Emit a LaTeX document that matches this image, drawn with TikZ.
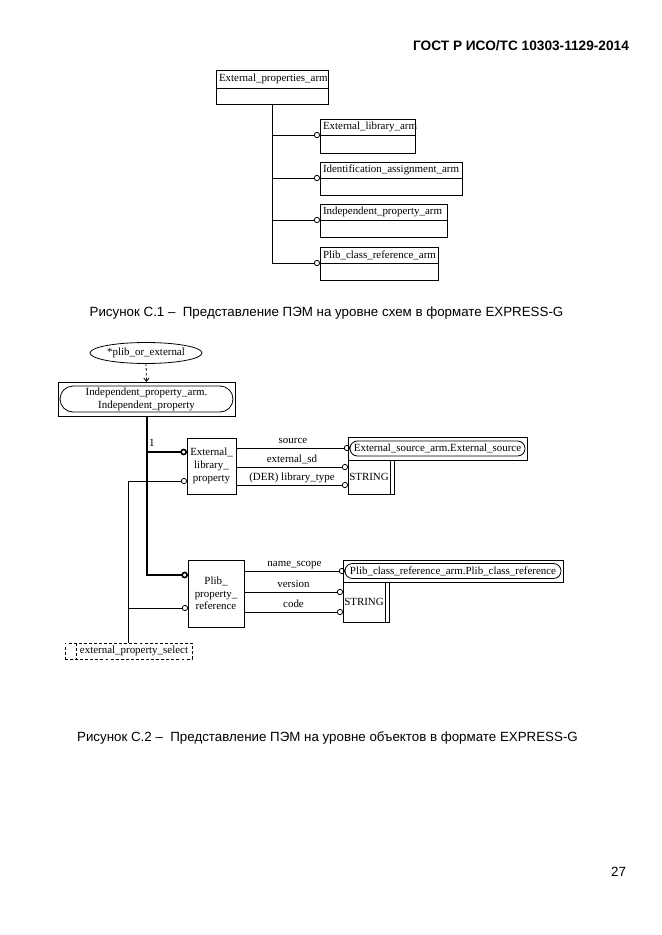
\documentclass[tikz,border=0pt]{standalone}
\usepackage{fontspec}
\setmainfont{Liberation Serif}
\newfontfamily\capfont{Liberation Sans}
\usetikzlibrary{arrows.meta,shapes.geometric,calc}
\begin{document}
\begin{tikzpicture}[x=0.75pt,y=-0.75pt,
  every node/.style={inner sep=0pt, outer sep=0pt},
  thinl/.style={line width=0.6pt},
  thickl/.style={line width=1.5pt},
  dtxt/.style={font=\fontsize{8.2}{9.75}\selectfont},
  hdr/.style={draw, thinl, anchor=north west, align=left, inner xsep=2.25pt, dtxt},
  bodyb/.style={draw, thinl, anchor=north west},
  cbox/.style={draw, thinl, align=center, dtxt},
  stad/.style={draw, thinl, rounded corners=5.6pt, dtxt},
  circ/.style={-{Circle[open,length=4.6pt,width=4.6pt]}},
  circb/.style={-{Circle[open,length=5pt,width=5pt,line width=1.2pt]}},
  lbl/.style={dtxt, text depth=0pt, above=3.2pt},
  capt/.style={font=\capfont\fontsize{10}{12}\selectfont},
]
\fill[white] (0,0) rectangle (661,935);
\useasboundingbox (0,0) rectangle (661,935);

% header and page number
\node[font=\capfont\bfseries\fontsize{10.25}{12}\selectfont] (hd) at (521,46) {ГОСТ Р ИСО/ТС 10303-1129-2014};
\node[font=\capfont\fontsize{10}{12}\selectfont, anchor=east] (pg) at (626,872) {27};

% ---------- Figure C.1 ----------
\node[hdr, text width=79.5pt, minimum height=13.5pt] (epah) at (216,70) {External\_properties\_arm};
\node[bodyb, minimum width=84pt, minimum height=12pt] (epab) at (epah.south west) {};

\node[hdr, text width=66.75pt, minimum height=12pt] (elah) at (320,119) {External\_library\_arm};
\node[bodyb, minimum width=71.25pt, minimum height=13.5pt] (elab) at (elah.south west) {};

\node[hdr, text width=102pt, minimum height=12pt] (iaah) at (320,162) {Identification\_assignment\_arm};
\node[bodyb, minimum width=106.5pt, minimum height=12.75pt] (iaab) at (iaah.south west) {};

\node[hdr, text width=90.75pt, minimum height=12pt] (ipah) at (320,204) {Independent\_property\_arm};
\node[bodyb, minimum width=95.25pt, minimum height=12.75pt] (ipab) at (ipah.south west) {};

\node[hdr, text width=84pt, minimum height=12pt] (pcrah) at (320,247) {Plib\_class\_reference\_arm};
\node[bodyb, minimum width=88.5pt, minimum height=12.75pt] (pcrab) at (pcrah.south west) {};

\draw[thinl] (epab.south) -- (epab.south |- pcrah.south west);
\draw[thinl,circ] (epab.south |- elah.south west) -- (elah.south west);
\draw[thinl,circ] (epab.south |- iaah.south west) -- (iaah.south west);
\draw[thinl,circ] (epab.south |- ipah.south west) -- (ipah.south west);
\draw[thinl,circ] (epab.south |- pcrah.south west) -- (pcrah.south west);

\node[capt] (cap1) at (326.5,313) {Рисунок С.1 –\ \ Представление ПЭМ на уровне схем в формате EXPRESS-G};

% ---------- Figure C.2 ----------
\node[draw, thinl, ellipse, minimum width=84pt, minimum height=15.75pt, dtxt] (ell) at (146,353) {*plib\_or\_external};

\node[draw, thinl, minimum width=132.75pt, minimum height=25.5pt] (ipa) at (146.5,399) {};
\node[stad, rounded corners=9.75pt, minimum width=129.75pt, minimum height=19.5pt, align=center] (ipai) at (ipa.center) {Independent\_property\_arm.\\Independent\_property};

\draw[thinl, dashed, dash pattern=on 2pt off 1.5pt, -{Straight Barb[length=2.5pt,width=4pt]}] (ell.south) -- (ipa.north);

\node[cbox, minimum width=36.75pt, minimum height=42pt, font=\fontsize{8.2}{10}\selectfont] (elp) at (211.5,466) {External\_\\library\_\\property};
\node[cbox, minimum width=42pt, minimum height=50.25pt, font=\fontsize{8.2}{9.3}\selectfont] (plib) at (216,593.5) {Plib\_\\property\_\\reference};

% external source
\node[draw, thinl, minimum width=134.25pt, minimum height=17.25pt] (esrc) at (437.5,448.5) {};
\node[stad, minimum width=131.25pt, minimum height=11.25pt] (esrci) at (esrc.center) {External\_source\_arm.External\_source};
\node[bodyb, minimum width=34.5pt, minimum height=25.5pt] (str1) at (esrc.south west) {};
\draw[thinl] ($(str1.north east)+(-4,0)$) -- ($(str1.south east)+(-4,0)$);
\node[dtxt] (str1t) at (369,477) {STRING};

% plib class reference
\node[draw, thinl, minimum width=165pt, minimum height=16.5pt] (pcr) at (453,571) {};
\node[stad, minimum width=162pt, minimum height=11.25pt] (pcri) at (pcr.center) {Plib\_class\_reference\_arm.Plib\_class\_reference};
\node[bodyb, minimum width=34.5pt, minimum height=30pt] (str2) at (pcr.south west) {};
\draw[thinl] ($(str2.north east)+(-4,0)$) -- ($(str2.south east)+(-4,0)$);
\node[dtxt] (str2t) at (364,602) {STRING};

% select
\node[draw, thinl, dashed, dash pattern=on 2.2pt off 1.6pt, minimum width=95.25pt, minimum height=12pt] (sel) at (128.5,651) {};
\draw[thinl, dashed, dash pattern=on 2.2pt off 1.6pt] ($(sel.north west)+(11,0)$) -- ($(sel.south west)+(11,0)$);
\node[dtxt] (selt) at (134,651) {external\_property\_select};

% thick supertype tree
\draw[thickl, circb] (ipa.south) |- (plib.west |- 0,575);
\draw[thickl, circb] (ipa.south |- 0,452) -- (elp.west |- 0,452);
\node[dtxt, anchor=west] (one) at (149,443) {1};

% thin select lines
\draw[thinl] (sel.north) -- (sel.north |- 0,481);
\draw[thinl, circ] (sel.north |- 0,481) -- (elp.west |- 0,481);
\draw[thinl, circ] (sel.north |- 0,608) -- (plib.west |- 0,608);

% attributes
\draw[thinl, circ] (elp.east |- 0,448) -- node[lbl] {source} (esrci.west |- 0,448);
\draw[thinl, circ] (elp.east |- 0,467) -- node[lbl] {external\_sd} (str1.west |- 0,467);
\draw[thinl, circ] (elp.east |- 0,485) -- node[lbl] {(DER) library\_type} (str1.west |- 0,485);

\draw[thinl, circ] (plib.east |- 0,571) -- node[lbl] {name\_scope} (pcri.west |- 0,571);
\draw[thinl, circ] (plib.east |- 0,592) -- node[lbl] {version} (str2.west |- 0,592);
\draw[thinl, circ] (plib.east |- 0,612) -- node[lbl] {code} (str2.west |- 0,612);

\node[capt] (cap2) at (327.5,738) {Рисунок С.2 –\ \ Представление ПЭМ на уровне объектов в формате EXPRESS-G};
\end{tikzpicture}
\end{document}
